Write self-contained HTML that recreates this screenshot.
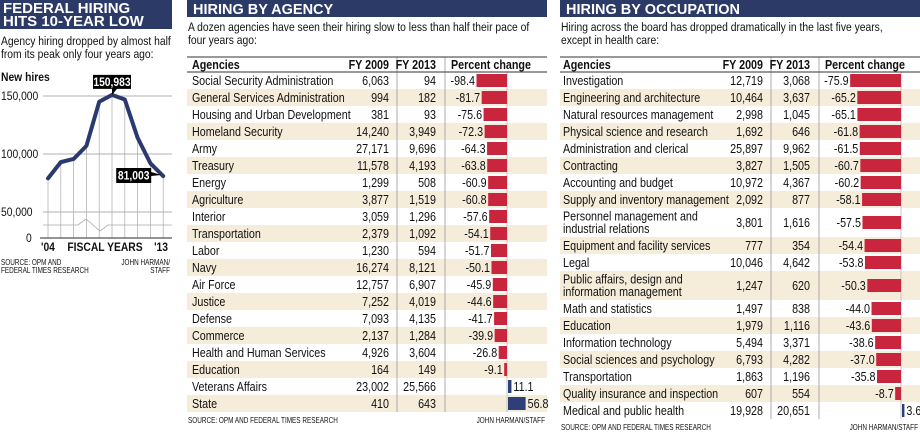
<!DOCTYPE html>
<html><head><meta charset="utf-8"><style>
html,body{margin:0;padding:0;background:#fff;}
svg{display:block;font-family:"Liberation Sans",sans-serif;}
</style></head><body>
<svg id="root" width="920" height="434" viewBox="0 0 920 434" xmlns="http://www.w3.org/2000/svg">
<g>
<rect x="0" y="0" width="172" height="29" fill="#2b3a67"/>
<text class="t" x="3" y="13" font-size="15" font-weight="bold" fill="#fff">FEDERAL HIRING</text>
<text class="t" x="3" y="26" font-size="15" font-weight="bold" fill="#fff">HITS 10-YEAR LOW</text>
<text x="1" y="45" font-size="12" fill="#111">Agency hiring dropped by almost half</text>
<text x="1" y="58" font-size="12" fill="#111">from its peak only four years ago:</text>
<text x="1" y="81" font-size="12" font-weight="bold" fill="#111">New hires</text>
<g id="linechart"></g>
<text x="1" y="265" font-size="8" fill="#111">SOURCE: OPM AND</text>
<text x="1" y="273" font-size="8" fill="#111">FEDERAL TIMES RESEARCH</text>
<text x="170" y="265" font-size="8" fill="#111" text-anchor="end">JOHN HARMAN/</text>
<text x="170" y="273" font-size="8" fill="#111" text-anchor="end">STAFF</text>
</g>
<g>
<rect x="187" y="0" width="360" height="17" fill="#2b3a67"/>
<text class="t" x="193" y="14" font-size="14.5" font-weight="bold" fill="#fff">HIRING BY AGENCY</text>
<text x="188" y="31" font-size="12" fill="#111">A dozen agencies have seen their hiring slow to less than half their pace of</text>
<text x="188" y="44" font-size="12" fill="#111">four years ago:</text>
<g id="agencyTable"></g>
<text x="188" y="423" font-size="8" fill="#111">SOURCE: OPM AND FEDERAL TIMES RESEARCH</text>
<text x="545" y="423" font-size="8" fill="#111" text-anchor="end">JOHN HARMAN/STAFF</text>
</g>
<g>
<rect x="560" y="0" width="360" height="17" fill="#2b3a67"/>
<text class="t" x="566" y="14" font-size="14.5" font-weight="bold" fill="#fff">HIRING BY OCCUPATION</text>
<text x="561" y="31" font-size="12" fill="#111">Hiring across the board has dropped dramatically in the last five years,</text>
<text x="561" y="44" font-size="12" fill="#111">except in health care:</text>
<g id="occTable"></g>
<text x="561" y="430" font-size="8" fill="#111">SOURCE: OPM AND FEDERAL TIMES RESEARCH</text>
<text x="918" y="430" font-size="8" fill="#111" text-anchor="end">JOHN HARMAN/STAFF</text>
</g>
</svg>
<script>
const NS="http://www.w3.org/2000/svg";
const years=[2004,2005,2006,2007,2008,2009,2010,2011,2012,2013];
const hires=[79000,93000,95700,107000,145000,150983,147000,114000,92000,81003];
const yTicks=[150000,100000,50000];
const yTickLabels=["150,000","100,000","50,000"];
const agencyNames=["Social Security Administration","General Services Administration","Housing and Urban Development","Homeland Security","Army","Treasury","Energy","Agriculture","Interior","Transportation","Labor","Navy","Air Force","Justice","Defense","Commerce","Health and Human Services","Education","Veterans Affairs","State"];
const agencyFy09=["6,063","994","381","14,240","27,171","11,578","1,299","3,877","3,059","2,379","1,230","16,274","12,757","7,252","7,093","2,137","4,926","164","23,002","410"];
const agencyFy13=["94","182","93","3,949","9,696","4,193","508","1,519","1,296","1,092","594","8,121","6,907","4,019","4,135","1,284","3,604","149","25,566","643"];
const agencyPct=[-98.4,-81.7,-75.6,-72.3,-64.3,-63.8,-60.9,-60.8,-57.6,-54.1,-51.7,-50.1,-45.9,-44.6,-41.7,-39.9,-26.8,-9.1,11.1,56.8];
const occNames=[["Investigation"],["Engineering and architecture"],["Natural resources management"],["Physical science and research"],["Administration and clerical"],["Contracting"],["Accounting and budget"],["Supply and inventory management"],["Personnel management and","industrial relations"],["Equipment and facility services"],["Legal"],["Public affairs, design and","information management"],["Math and statistics"],["Education"],["Information technology"],["Social sciences and psychology"],["Transportation"],["Quality insurance and inspection"],["Medical and public health"]];
const occFy09=["12,719","10,464","2,998","1,692","25,897","3,827","10,972","2,092","3,801","777","10,046","1,247","1,497","1,979","5,494","6,793","1,863","607","19,928"];
const occFy13=["3,068","3,637","1,045","646","9,962","1,505","4,367","877","1,616","354","4,642","620","838","1,116","3,371","4,282","1,196","554","20,651"];
const occPct=[-75.9,-65.2,-65.1,-61.8,-61.5,-60.7,-60.2,-58.1,-57.5,-54.4,-53.8,-50.3,-44.0,-43.6,-38.6,-37.0,-35.8,-8.7,3.6];

function el(tag,attrs,parent,txt){const e=document.createElementNS(NS,tag);for(const k in attrs)e.setAttribute(k,attrs[k]);if(txt!==undefined)e.textContent=txt;parent.appendChild(e);return e;}
function fmt(v){return v.toFixed(1);}
const FS=12.5;

(function(){
const g=document.getElementById('linechart');
const xS=y=>48+(y-2004)*12.8;
const yS=v=>212-(v-50000)*116/100000;
for(let i=0;i<yTicks.length;i++){
 const l=el('line',{x1:43,x2:172,y1:yS(yTicks[i]),y2:yS(yTicks[i]),stroke:'#999','stroke-width':0.8},g);
 
 const t=el('text',{x:1,y:yS(yTicks[i])+4,'font-size':12,fill:'#111'},g,yTickLabels[i]);
 
}
const br=el('polyline',{points:'43,225 78,225 86,219 100,231 108,225 172,225',fill:'none',stroke:'#aaa','stroke-width':0.8},g);

const z=el('text',{x:26,y:242,'font-size':12,fill:'#111'},g,'0');

for(let i=0;i<years.length;i++){
 const v=el('line',{x1:xS(years[i]),x2:xS(years[i]),y1:yS(hires[i]),y2:238,stroke:'#aaa','stroke-width':0.7},g);
 
}
const b=el('line',{x1:40,x2:172,y1:238,y2:238,stroke:'#555','stroke-width':1.2},g);

const pts=years.map((y,i)=>xS(y)+','+yS(hires[i])).join(' ');
const p=el('polyline',{points:pts,fill:'none',stroke:'#2b3a6e','stroke-width':4,'stroke-linejoin':'round','stroke-linecap':'round'},g);

const pi=5,px=xS(years[pi]),py=yS(hires[pi]);
const c1=el('path',{d:`M${px-19},${py-20} h38 v14 h-14 l-5,6 v-6 h-19 z`,fill:'#000'},g);

const t1=el('text',{x:px,y:py-9,'font-size':12,'font-weight':'bold',fill:'#fff','text-anchor':'middle'},g,'150,983');

const li=9,lx=xS(years[li]),ly=yS(hires[li]);
const c2=el('path',{d:`M${lx-47},${ly-8} h35 v4 l10,3 l-10,1 v7 h-35 z`,fill:'#000'},g);

const t2=el('text',{x:lx-29.5,y:ly+3.5,'font-size':12,'font-weight':'bold',fill:'#fff','text-anchor':'middle'},g,'81,003');

const a=el('text',{x:41,y:251,'font-size':12,'font-weight':'bold',fill:'#111'},g,"'04");

const f=el('text',{x:105,y:251,'font-size':12,'font-weight':'bold',fill:'#111','text-anchor':'middle'},g,'FISCAL YEARS');

const e=el('text',{x:168,y:251,'font-size':12,'font-weight':'bold',fill:'#111','text-anchor':'end'},g,"'13");

})();

function table(gid,cfg,names,f09,f13,pct){
 const g=document.getElementById(gid);
 let y=cfg.top;
 const rowsG=el('g',{},g);
 const tops=[];
 for(let i=0;i<names.length;i++){
  const nm=Array.isArray(names[i])?names[i]:[names[i]];
  const h=nm.length>1?cfg.h2:cfg.h;
  tops.push([y,h]);
  if(i%2===1){const r=el('rect',{x:cfg.x0,y:y,width:cfg.x1-cfg.x0,height:h,fill:'#f6ecda'},rowsG);
   }
  y+=h;
 }
 const bottom=y;
 [cfg.sep1,cfg.sep2].forEach(x=>{const l=el('line',{x1:x,x2:x,y1:cfg.top-15,y2:bottom,stroke:'#999','stroke-width':0.8},g);
  });
 const ax=el('line',{x1:cfg.zero,x2:cfg.zero,y1:cfg.top,y2:bottom,stroke:'#bbb','stroke-width':0.8},g);
 
 const hl=el('line',{x1:cfg.x0,x2:cfg.x1,y1:cfg.top-15,y2:cfg.top-15,stroke:'#333','stroke-width':1},g);
 
 const hl2=el('line',{x1:cfg.x0,x2:cfg.x1,y1:cfg.top,y2:cfg.top,stroke:'#333','stroke-width':1},g);
 
 const hy=cfg.top-3;
 const h1=el('text',{x:cfg.nx,y:hy,'font-size':FS,'font-weight':'bold',fill:'#111'},g,'Agencies');
 
 const h2=el('text',{x:cfg.r09,y:hy,'font-size':FS,'font-weight':'bold',fill:'#111','text-anchor':'end'},g,'FY 2009');
 
 const h3=el('text',{x:cfg.r13,y:hy,'font-size':FS,'font-weight':'bold',fill:'#111','text-anchor':'end'},g,'FY 2013');
 
 const h4=el('text',{x:cfg.sep2+6,y:hy,'font-size':FS,'font-weight':'bold',fill:'#111'},g,'Percent change');
 
 for(let i=0;i<names.length;i++){
  const [ty,h]=tops[i];const nm=Array.isArray(names[i])?names[i]:[names[i]];
  const cy=ty+h/2+4.5;
  nm.forEach((s,k)=>{const t=el('text',{x:cfg.nx,y:cy+(k-(nm.length-1)/2)*12.5,'font-size':FS,fill:'#111'},g,s);
   });
  const a=el('text',{x:cfg.r09,y:cy,'font-size':FS,fill:'#111','text-anchor':'end'},g,f09[i]);
  
  const b=el('text',{x:cfg.r13,y:cy,'font-size':FS,fill:'#111','text-anchor':'end'},g,f13[i]);
  
  const v=pct[i],w=Math.abs(v)*cfg.scale,bh=Math.min(13,h-4),by=ty+(h-bh)/2;
  const bx=v<0?cfg.zero-w:cfg.zero+1;
  const r=el('rect',{x:bx,y:by,width:Math.max(w,1.5),height:bh,fill:v<0?'#c9263d':'#2c3f78'},g);
  
  const lbl=v<0?el('text',{x:bx-1.5,y:cy,'font-size':FS,fill:'#111','text-anchor':'end'},g,fmt(v))
              :el('text',{x:bx+Math.max(w,1.5)+2,y:cy,'font-size':FS,fill:'#111'},g,fmt(v));
  
 }
}
table('agencyTable',{x0:187,x1:547,top:72,h:17,h2:29,nx:192,r09:389,sep1:397,r13:436,sep2:445,zero:507,scale:0.31},agencyNames,agencyFy09,agencyFy13,agencyPct);
table('occTable',{x0:560,x1:920,top:72,h:17,h2:29,nx:563,r09:763,sep1:771,r13:810,sep2:819,zero:901,scale:0.67},occNames,occFy09,occFy13,occPct);

// condense text horizontally
document.querySelectorAll('#root text').forEach(t=>{
 if(t.classList.contains('t'))return;
 const SX=parseFloat(t.getAttribute('font-size'))<=8?0.8:0.86;
 const x=parseFloat(t.getAttribute('x'));
 t.setAttribute('x',x/SX);
 t.setAttribute('transform','scale('+SX+',1)');
});
</script>
</body></html>
